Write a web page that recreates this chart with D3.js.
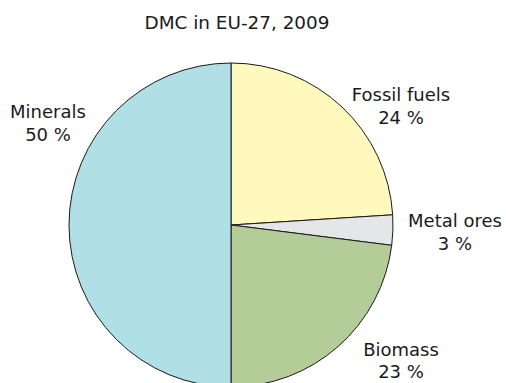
<!DOCTYPE html>
<html>
<head>
<meta charset="utf-8">
<script src="https://cdn.jsdelivr.net/npm/d3@7"></script>
<style>
  html, body { margin: 0; padding: 0; background: #fff; }
  svg { display: block; }
  text { font-family: "DejaVu Sans", Verdana, sans-serif; font-size: 18px; fill: #1a1a1a; }
</style>
</head>
<body>
<svg id="chart" width="506" height="383"></svg>
<script>
// Domestic material consumption by material group, EU-27, 2009 (%)
const categories = ["Fossil fuels", "Metal ores", "Biomass", "Minerals"];
const shares = [24, 3, 23, 50];
const colors = ["#fff9be", "#e4e6e8", "#b4cc98", "#b0e0e6"];
const title = "DMC in EU-27, 2009";

const width = 506, height = 383;
const cx = 231, cy = 225, radius = 162;

// Label anchor points (text-anchor middle, first-line baseline) and line gap
const labelPos = {
  "Fossil fuels": [401, 101, 23],
  "Metal ores":   [455, 227, 23],
  "Biomass":      [401, 356, 22],
  "Minerals":     [48, 118, 23]
};

const svg = d3.select("#chart");

svg.append("text")
  .attr("x", 237).attr("y", 29)
  .attr("text-anchor", "middle")
  .style("font-size", "18.4px")
  .text(title);

const data = categories.map((c, i) => ({ name: c, value: shares[i], color: colors[i] }));

const pie = d3.pie().sort(null).value(d => d.value);
const arc = d3.arc().innerRadius(0).outerRadius(radius);

const g = svg.append("g").attr("transform", `translate(${cx},${cy})`);

g.selectAll("path")
  .data(pie(data))
  .join("path")
  .attr("d", arc)
  .attr("fill", d => d.data.color)
  .attr("stroke", "#1a1a1a")
  .attr("stroke-width", 1)
  .attr("stroke-linejoin", "round");

const labels = svg.append("g");
data.forEach(d => {
  const [x, y, gap] = labelPos[d.name];
  const t = labels.append("text").attr("text-anchor", "middle");
  t.append("tspan").attr("x", x).attr("y", y).text(d.name);
  t.append("tspan").attr("x", x).attr("y", y + gap).text(`${d.value} %`);
});
</script>
</body>
</html>
